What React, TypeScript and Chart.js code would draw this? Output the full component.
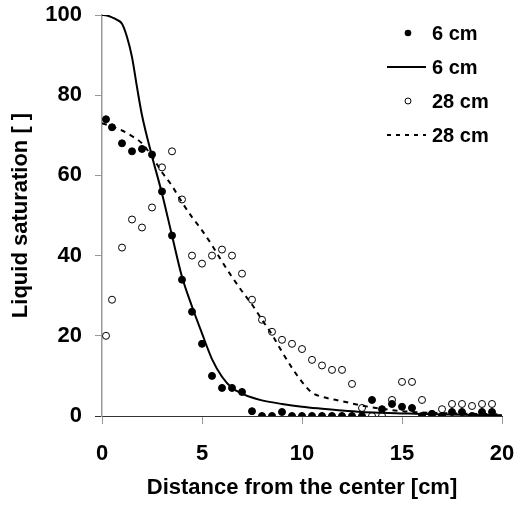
import React, { useEffect, useRef } from "react";
import { Chart, registerables } from "chart.js";

Chart.register(...registerables);

// Measured points (0.2 cm, then every 0.5 cm)
const pointX = [0.2, 0.5, 1, 1.5, 2, 2.5, 3, 3.5, 4, 4.5, 5, 5.5, 6, 6.5, 7, 7.5, 8, 8.5, 9, 9.5, 10, 10.5, 11, 11.5, 12, 12.5, 13, 13.5, 14, 14.5, 15, 15.5, 16, 16.5, 17, 17.5, 18, 18.5, 19, 19.5];
const measured6 = [74, 72, 68, 66, 66.6, 65.2, 56, 45, 34, 26, 18, 10, 7, 7, 6, 1.2, 0, 0, 1, 0, 0, 0, 0, 0, 0, 0, 0, 4, 1.7, 3, 2.3, 2, 0, 0.5, 0, 1, 1, 0, 1, 1];
const measured28 = [20, 29, 42, 49, 47, 52, 62, 66, 54, 40, 38, 40, 41.5, 40, 35.5, 29, 24, 21, 19, 18, 16.7, 14, 12.6, 11.5, 11.5, 8, 2, 0, 0, 4, 8.5, 8.5, 4, 0.5, 1.7, 3, 3, 2.5, 3, 3];

// Model curves
const model6X = [0, 0.25, 0.5, 0.75, 1, 1.25, 1.5, 1.75, 2, 2.5, 3, 3.5, 4, 4.5, 5, 5.5, 6, 6.5, 7, 7.5, 8, 9, 10, 11, 12, 13, 14, 15, 16, 17, 18, 19, 20];
const model6Y = [100, 99.9, 99.4, 98.8, 97.8, 94.5, 89.5, 82, 75, 64.8, 55.5, 45, 34.7, 27.3, 20.6, 14.2, 9.8, 7, 5.6, 4.6, 3.9, 3.0, 2.3, 1.8, 1.35, 1.0, 0.8, 0.65, 0.5, 0.4, 0.3, 0.25, 0.2];
const model28X = [0, 0.5, 1, 1.5, 2, 2.5, 3, 3.5, 4, 4.5, 5, 5.5, 6, 6.5, 7, 7.5, 8, 8.5, 9, 9.5, 10, 10.5, 11, 12, 13, 14, 15, 16, 17, 18, 19, 20];
const model28Y = [73, 72.2, 71.2, 69.8, 68, 64.7, 60.8, 57.4, 53.3, 49.6, 46.3, 42.6, 38.5, 34.7, 31.1, 27.8, 24, 20.3, 16, 12, 8.5, 5.8, 4.8, 3.7, 2.6, 1.8, 1.2, 0.9, 0.7, 0.6, 0.5, 0.4];

const seriesLabels = ["6 cm", "6 cm", "28 cm", "28 cm"];
const xTitle = "Distance from the center [cm]";
const yTitle = "Liquid saturation [ ]";

const FONT = "Arial, 'Liberation Sans', sans-serif";

const zip = (xs: number[], ys: number[]) => xs.map((x, i) => ({ x, y: ys[i] }));

const legendPlugin = {
  id: "customLegend",
  afterDraw(chart: any) {
    const ctx = chart.ctx as CanvasRenderingContext2D;
    const area = chart.chartArea;
    const mx = area.right - 94;
    const lx0 = area.right - 115;
    const lx1 = area.right - 76;
    const tx = area.right - 70;
    const y0 = area.top + 18;
    const step = 34;
    ctx.save();
    ctx.font = `bold 20px ${FONT}`;
    ctx.fillStyle = "#000";
    ctx.textBaseline = "middle";
    ctx.textAlign = "left";
    ctx.beginPath();
    ctx.arc(mx, y0, 3.3, 0, Math.PI * 2);
    ctx.fill();
    ctx.fillText(seriesLabels[0], tx, y0 + 1);
    ctx.strokeStyle = "#000";
    ctx.lineWidth = 2;
    ctx.beginPath();
    ctx.moveTo(lx0, y0 + step);
    ctx.lineTo(lx1, y0 + step);
    ctx.stroke();
    ctx.fillText(seriesLabels[1], tx, y0 + step + 1);
    ctx.lineWidth = 1;
    ctx.beginPath();
    ctx.arc(mx, y0 + 2 * step, 3, 0, Math.PI * 2);
    ctx.fillStyle = "#fff";
    ctx.fill();
    ctx.stroke();
    ctx.fillStyle = "#000";
    ctx.fillText(seriesLabels[2], tx, y0 + 2 * step + 1);
    ctx.lineWidth = 2;
    ctx.setLineDash([4, 5]);
    ctx.beginPath();
    ctx.moveTo(lx0, y0 + 3 * step);
    ctx.lineTo(lx1, y0 + 3 * step);
    ctx.stroke();
    ctx.setLineDash([]);
    ctx.fillText(seriesLabels[3], tx, y0 + 3 * step + 1);
    ctx.restore();
  },
};

export default function App() {
  const ref = useRef<HTMLCanvasElement | null>(null);

  useEffect(() => {
    if (!ref.current) return;
    const chart = new Chart(ref.current, {
      type: "scatter",
      data: {
        datasets: [
          {
            label: seriesLabels[1],
            data: zip(model6X, model6Y),
            showLine: true,
            borderColor: "#000",
            borderWidth: 2,
            pointRadius: 0,
            cubicInterpolationMode: "monotone",
            order: 0,
          } as any,
          {
            label: seriesLabels[3],
            data: zip(model28X, model28Y),
            showLine: true,
            borderColor: "#000",
            borderWidth: 2,
            borderDash: [5, 5],
            pointRadius: 0,
            cubicInterpolationMode: "monotone",
            order: 1,
          } as any,
          {
            label: seriesLabels[0],
            data: zip(pointX, measured6),
            backgroundColor: "#000",
            borderColor: "#000",
            borderWidth: 1,
            pointRadius: 3.5,
            order: 2,
          },
          {
            label: seriesLabels[2],
            data: zip(pointX, measured28),
            backgroundColor: "#fff",
            borderColor: "#000",
            borderWidth: 1,
            pointRadius: 3.5,
            order: 3,
          },
        ],
      },
      options: {
        animation: false,
        responsive: false,
        devicePixelRatio: 1,
        layout: { autoPadding: false, padding: { left: 0, right: 13, top: 15, bottom: 0 } },
        plugins: { legend: { display: false }, tooltip: { enabled: false } },
        scales: {
          x: {
            type: "linear",
            min: 0,
            max: 20,
            ticks: {
              stepSize: 5,
              padding: 17,
              color: "#000",
              font: { family: FONT, size: 22, weight: "bold" },
            },
            grid: { drawOnChartArea: false, drawTicks: true, tickLength: 8, color: "#999" },
            border: { color: "#333", width: 1 },
            title: {
              display: true,
              text: xTitle,
              color: "#000",
              font: { family: FONT, size: 22, weight: "bold" },
              padding: { top: 0, bottom: 4 },
            },
            afterFit: (s: any) => {
              s.height = 89;
              s.paddingLeft = 0;
              s.paddingRight = 0;
            },
          },
          y: {
            type: "linear",
            min: 0,
            max: 100,
            ticks: {
              stepSize: 20,
              padding: 13,
              color: "#000",
              font: { family: FONT, size: 22, weight: "bold" },
            },
            grid: {
              drawOnChartArea: false,
              drawTicks: true,
              tickLength: 7,
              color: (c: any) => (c.tick && c.tick.value === 0 ? "#333" : "#999"),
            },
            border: { color: "#999", width: 1.5 },
            title: {
              display: true,
              text: yTitle,
              color: "#000",
              font: { family: FONT, size: 22, weight: "bold" },
              padding: { top: 8, bottom: 0 },
            },
            afterFit: (s: any) => {
              s.width = 102;
              s.paddingTop = 0;
              s.paddingBottom = 0;
            },
          },
        },
      },
      plugins: [legendPlugin],
    });
    return () => chart.destroy();
  }, []);

  return (
    <div style={{ position: "fixed", left: 0, top: 0, width: 515, height: 505, background: "#fff" }}>
      <canvas ref={ref} width={515} height={505} style={{ display: "block" }} />
    </div>
  );
}
